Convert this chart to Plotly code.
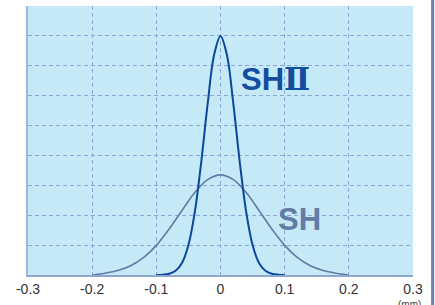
import plotly.graph_objects as go

# SH II distribution (mm, relative frequency)
shii_x = [-0.10, -0.09, -0.08, -0.07, -0.06, -0.05, -0.04, -0.03, -0.02, -0.01, 0.0,
          0.01, 0.02, 0.03, 0.04, 0.05, 0.06, 0.07, 0.08, 0.09, 0.10]
shii_y = [0.0, 0.01, 0.04, 0.14, 0.40, 1.0, 2.11, 3.78, 5.73, 7.36, 8.0,
          7.36, 5.73, 3.78, 2.11, 1.0, 0.40, 0.14, 0.04, 0.01, 0.0]

# SH distribution
sh_x = [-0.20, -0.18, -0.16, -0.14, -0.12, -0.10, -0.08, -0.06, -0.04, -0.02, 0.0,
        0.02, 0.04, 0.06, 0.08, 0.10, 0.12, 0.14, 0.16, 0.18, 0.20]
sh_y = [0.0, 0.06, 0.15, 0.31, 0.58, 0.99, 1.54, 2.16, 2.76, 3.19, 3.35,
        3.19, 2.76, 2.16, 1.54, 0.99, 0.58, 0.31, 0.15, 0.06, 0.0]

x_ticks = [-0.3, -0.2, -0.1, 0, 0.1, 0.2, 0.3]
x_tick_labels = ["-0.3", "-0.2", "-0.1", "0", "0.1", "0.2", "0.3"]

FONT = "Liberation Sans, Arial, Noto Sans CJK JP, sans-serif"

fig = go.Figure()
fig.add_trace(go.Scatter(x=sh_x, y=sh_y, mode="lines",
                         line=dict(color="#5F7BA5", width=1.6, shape="spline"),
                         hoverinfo="skip"))
fig.add_trace(go.Scatter(x=shii_x, y=shii_y, mode="lines",
                         line=dict(color="#0B479B", width=2, shape="spline"),
                         hoverinfo="skip"))

fig.add_annotation(x=0.0285, y=6.55,
                   text="<b>SH<span style='font-family:DejaVu Serif'>Ⅱ</span></b>",
                   showarrow=False, xanchor="left", yanchor="middle",
                   font=dict(family=FONT, size=31, color="#134E9F"))
fig.add_annotation(x=0.087, y=1.85, text="<b>SH</b>", showarrow=False,
                   xanchor="left", yanchor="middle",
                   font=dict(family=FONT, size=31, color="#637CA6"))
fig.add_annotation(xref="paper", yref="paper", x=1.026, y=-0.082, text="(mm)", showarrow=False,
                   xanchor="right", yanchor="top",
                   font=dict(family=FONT, size=10, color="#444444"))

# right edge bar of the page
fig.add_shape(type="rect", xref="paper", yref="paper", x0=1.047, x1=1.055, y0=-0.2, y1=1.1,
              line=dict(width=0), fillcolor="#6A84AC")

fig.update_layout(
    width=435, height=305,
    margin=dict(l=28, r=22, t=6, b=30, autoexpand=False),
    paper_bgcolor="white", plot_bgcolor="#C6E9F8",
    showlegend=False,
    font=dict(family=FONT, size=14, color="#333333"),
)
fig.update_xaxes(range=[-0.3, 0.3], tickvals=x_ticks, ticktext=x_tick_labels,
                 showgrid=True, gridcolor="#8EA6D6", griddash="4px,3px", gridwidth=1,
                 zeroline=False, showline=True, linecolor="#8FA6CF", linewidth=1.5,
                 ticks="", ticklen=0, fixedrange=True, automargin=False)
fig.update_yaxes(range=[0, 9], dtick=1, showticklabels=False,
                 showgrid=True, gridcolor="#8EA6D6", griddash="4px,3px", gridwidth=1,
                 zeroline=False, showline=True, linecolor="#9DB7E2", linewidth=1.5,
                 ticks="", fixedrange=True, automargin=False)

fig.write_html("out.html", config={"displayModeBar": False},
               post_script="document.body.style.margin='0';document.body.style.overflow='hidden';")
